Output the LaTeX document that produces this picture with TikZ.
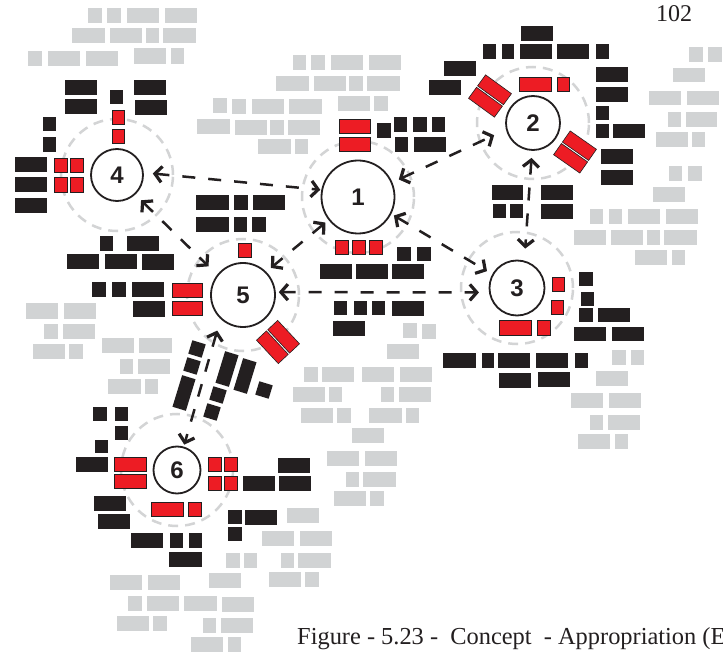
\documentclass[tikz,border=0pt]{standalone}
\usepackage{fontspec}
\setmainfont{Liberation Serif}
\newfontfamily\numfont{Liberation Sans}
\usetikzlibrary{arrows.meta}
\definecolor{ink}{HTML}{231F20}
\definecolor{redf}{HTML}{ED1C24}
\definecolor{grayf}{HTML}{D1D3D4}
\definecolor{ringc}{HTML}{D3D4D5}
\newcommand{\gryr}[4]{\fill[grayf] (#1,#2) rectangle (#3,#4);}
\newcommand{\blkr}[4]{\fill[ink] (#1,#2) rectangle (#3,#4);}
\newcommand{\redr}[4]{\filldraw[fill=redf,draw=ink,line width=0.6pt] (#1,#2) rectangle (#3,#4);}
\newcommand{\redpair}[3]{\begin{scope}[shift={(#1,#2)},rotate=#3]
  \filldraw[fill=redf,draw=ink,line width=0.6pt] (-16,-14.5) rectangle (16,-0.9);
  \filldraw[fill=redf,draw=ink,line width=0.6pt] (-16,0.9) rectangle (16,14.5);
  \end{scope}}
\newcommand{\tblk}[4]{\begin{scope}[shift={(#1,#2)},rotate=-17]
  \fill[ink] (-#3/2,-#4/2) rectangle (#3/2,#4/2);
  \end{scope}}
\tikzset{
  bigc/.style={circle,draw=ink,line width=1.8pt,fill=white,inner sep=0pt,text=ink,
    font=\numfont\bfseries\fontsize{24}{24}\selectfont},
  ring/.style={draw=ringc,line width=2.5pt,dash pattern=on 10pt off 7pt},
  conn/.style={draw=ink,line width=2.5pt,dash pattern=on 13pt off 13pt,
    {Straight Barb[length=7pt,width=16pt,line width=3.2pt]}-{Straight Barb[length=7pt,width=16pt,line width=3.2pt]}}
}
\begin{document}
\begin{tikzpicture}[x=1pt,y=-1pt]
\useasboundingbox (0,0) rectangle (723,660);
\clip (0,0) rectangle (723,660);
\fill[white] (0,0) rectangle (723,660);
% centres
\coordinate (c1) at (358,197);
\coordinate (c2) at (533,123);
\coordinate (c3) at (517,288);
\coordinate (c4) at (117,175);
\coordinate (c5) at (243,295);
\coordinate (c6) at (177,470);
% rings
\foreach \c in {c1,c2,c3,c4,c5,c6} {\draw[ring] (\c) circle[radius=56pt];}
% ---------- gray blocks
\gryr{88}{8}{102}{23}\gryr{107}{8}{121}{23}\gryr{127}{8}{159}{23}\gryr{165}{8}{197}{23}
\gryr{72}{28}{105}{43}\gryr{110}{28}{142}{43}\gryr{146}{28}{159}{43}\gryr{163}{28}{196}{43}
\gryr{28}{51}{42}{66}\gryr{48}{51}{80}{66}\gryr{86}{51}{118}{66}\gryr{134}{48}{166}{64}\gryr{171}{48}{184}{64}
\gryr{213}{98}{227}{113}\gryr{232}{99}{246}{114}\gryr{252}{99}{284}{114}\gryr{289}{99}{322}{114}
\gryr{197}{119}{230}{134}\gryr{235}{120}{267}{135}\gryr{270}{120}{284}{135}\gryr{288}{120}{320}{135}
\gryr{258}{139}{291}{154}\gryr{295}{139}{308}{154}
\gryr{293}{55}{306}{70}\gryr{311}{55}{325}{70}\gryr{331}{55}{363}{70}\gryr{369}{55}{401}{70}
\gryr{276}{76}{309}{91}\gryr{314}{76}{346}{91}\gryr{349}{76}{363}{91}\gryr{367}{76}{400}{91}
\gryr{338}{96}{370}{111}\gryr{374}{96}{388}{111}
\gryr{689}{47}{703}{62}\gryr{708}{47}{722}{62}
\gryr{673}{68}{705}{82}
\gryr{649}{91}{681}{105}\gryr{687}{91}{719}{105}
\gryr{668}{112}{681}{127}\gryr{686}{112}{717}{127}
\gryr{656}{132}{688}{147}\gryr{692}{132}{705}{147}
\gryr{669}{166}{682}{181}\gryr{688}{166}{702}{181}
\gryr{653}{187}{685}{202}
\gryr{590}{209}{603}{224}\gryr{609}{209}{622}{224}\gryr{628}{209}{660}{224}\gryr{666}{209}{698}{224}
\gryr{574}{230}{606}{245}\gryr{611}{230}{643}{245}\gryr{647}{230}{660}{245}\gryr{664}{230}{697}{245}
\gryr{635}{250}{667}{265}\gryr{672}{250}{685}{265}
\gryr{612}{350}{626}{365}\gryr{631}{350}{644}{365}
\gryr{596}{371}{628}{386}
\gryr{571}{393}{603}{408}\gryr{609}{393}{641}{408}
\gryr{590}{415}{603}{430}\gryr{608}{415}{640}{430}
\gryr{578}{434}{610}{449}\gryr{615}{434}{628}{449}
\gryr{403}{323}{417}{338}\gryr{422}{324}{436}{339}
\gryr{387}{344}{419}{359}
\gryr{304}{367}{318}{382}\gryr{322}{367}{354}{382}\gryr{362}{367}{394}{382}\gryr{400}{367}{432}{382}
\gryr{293}{387}{325}{402}\gryr{329}{387}{342}{402}\gryr{381}{387}{394}{402}\gryr{399}{387}{431}{402}
\gryr{301}{408}{333}{423}\gryr{337}{408}{351}{423}\gryr{369}{408}{402}{423}\gryr{406}{408}{419}{423}
\gryr{352}{428}{384}{443}
\gryr{327}{451}{359}{466}\gryr{365}{451}{397}{466}
\gryr{346}{472}{359}{487}\gryr{363}{472}{396}{487}
\gryr{334}{491}{366}{506}\gryr{370}{491}{384}{506}
\gryr{287}{508}{319}{523}
\gryr{262}{531}{294}{546}\gryr{300}{531}{332}{546}
\gryr{226}{553}{240}{568}\gryr{244}{553}{257}{568}\gryr{281}{553}{294}{568}\gryr{298}{553}{331}{568}
\gryr{209}{573}{241}{588}\gryr{269}{572}{301}{587}\gryr{305}{572}{319}{587}
\gryr{222}{597}{254}{612}
\gryr{221}{618}{253}{633}
\gryr{228}{637}{241}{652}
\gryr{110}{575}{142}{590}\gryr{148}{575}{180}{590}
\gryr{128}{596}{142}{611}\gryr{147}{596}{179}{611}\gryr{184}{596}{217}{611}
\gryr{117}{616}{149}{631}\gryr{153}{616}{167}{631}\gryr{203}{618}{216}{633}
\gryr{191}{637}{223}{652}
\gryr{26}{303}{58}{319}\gryr{64}{303}{96}{319}
\gryr{44}{324}{58}{339}\gryr{63}{324}{95}{339}
\gryr{33}{344}{65}{359}\gryr{69}{344}{83}{359}
\gryr{102}{338}{134}{353}\gryr{139}{338}{172}{353}
\gryr{120}{359}{133}{374}\gryr{138}{359}{170}{374}
\gryr{108}{379}{141}{394}\gryr{145}{379}{158}{394}
% ---------- around 4
\blkr{65}{80}{97}{95}\blkr{65}{99}{97}{114}\blkr{110}{90}{123}{104}\blkr{134}{80}{166}{95}\blkr{135}{100}{167}{115}
\blkr{43}{117}{56}{131}\blkr{43}{137}{56}{152}
\blkr{15}{157}{47}{172}\blkr{15}{177}{47}{192}\blkr{15}{198}{47}{213}
\redr{54}{158}{67}{172}\redr{70}{158}{83}{172}\redr{54}{177}{67}{192}\redr{70}{177}{83}{192}
\redr{112}{110}{124}{124}\redr{112}{129}{124}{143}
\blkr{100}{236}{113}{251}\blkr{127}{236}{159}{251}
\blkr{67}{254}{99}{269}\blkr{105}{254}{137}{269}\blkr{142}{254}{174}{270}
\blkr{92}{282}{106}{297}\blkr{112}{282}{126}{297}\blkr{132}{282}{164}{297}\blkr{133}{301}{165}{317}
\redr{172}{283}{202}{297}\redr{172}{301}{202}{315}
% ---------- around 5 and 1
\blkr{196}{195}{229}{210}\blkr{234}{195}{248}{210}\blkr{253}{195}{285}{210}
\blkr{196}{217}{229}{232}\blkr{234}{217}{247}{232}\blkr{252}{217}{266}{232}
\redr{238}{243}{251}{257}
\redr{335}{240}{348}{254}\redr{352}{240}{365}{254}\redr{369}{240}{382}{254}
\blkr{397}{247}{411}{261}\blkr{417}{247}{431}{261}
\blkr{320}{264}{352}{279}\blkr{356}{264}{388}{279}\blkr{392}{264}{424}{279}
\blkr{334}{301}{347}{315}\blkr{354}{301}{367}{315}\blkr{372}{301}{385}{315}\blkr{392}{301}{424}{316}
\blkr{333}{321}{365}{336}
\redr{339}{119}{370}{133}\redr{339}{137}{370}{151}
\blkr{377}{123}{391}{138}\blkr{394}{117}{407}{132}\blkr{413}{117}{427}{132}\blkr{432}{117}{445}{132}
\blkr{395}{137}{408}{152}\blkr{414}{137}{446}{152}
% ---------- around 2
\blkr{444}{61}{476}{76}\blkr{429}{80}{461}{95}
\blkr{521}{26}{553}{41}
\blkr{483}{44}{496}{59}\blkr{502}{44}{514}{59}\blkr{520}{44}{552}{59}\blkr{557}{44}{589}{59}\blkr{596}{44}{609}{59}
\redr{519}{77}{551}{91}\redr{557}{77}{569}{91}
\blkr{596}{67}{628}{82}\blkr{596}{87}{628}{102}\blkr{596}{106}{609}{120}\blkr{596}{124}{609}{138}\blkr{613}{124}{645}{138}
\blkr{601}{149}{633}{164}\blkr{601}{170}{633}{185}
\blkr{492}{185}{523}{200}\blkr{541}{185}{573}{200}\blkr{493}{204}{506}{218}\blkr{510}{204}{523}{218}\blkr{541}{204}{573}{219}
\redpair{490}{96}{-36}
\redpair{575}{152}{-35}
% ---------- around 3
\redr{552}{277}{564}{291}\redr{551}{300}{563}{314}\redr{499}{320}{531}{335}\redr{537}{320}{550}{335}
\blkr{579}{272}{593}{286}\blkr{581}{292}{594}{306}\blkr{579}{308}{593}{322}\blkr{598}{308}{630}{322}
\blkr{574}{327}{606}{341}\blkr{612}{327}{644}{341}
\blkr{443}{353}{476}{368}\blkr{482}{353}{494}{368}\blkr{498}{353}{530}{368}\blkr{536}{353}{568}{368}\blkr{575}{353}{588}{368}
\blkr{499}{373}{531}{388}\blkr{538}{372}{570}{387}
% ---------- 5 to 6
\redpair{278}{342}{-47}
\tblk{197}{349}{14}{14}\tblk{192}{366}{14}{14}\tblk{184}{393}{14}{33}
\tblk{227}{369}{14}{33}\tblk{245}{376}{14}{33}\tblk{218}{395}{14}{14}\tblk{212}{412}{14}{14}\tblk{264}{390}{14}{14}
% ---------- around 6
\blkr{93}{407}{107}{421}\blkr{115}{407}{128}{421}\blkr{115}{426}{128}{440}\blkr{95}{440}{108}{453}
\blkr{76}{457}{108}{472}
\blkr{94}{496}{126}{511}\blkr{98}{514}{130}{529}
\blkr{131}{533}{163}{548}\blkr{170}{533}{183}{548}\blkr{189}{533}{202}{548}\blkr{169}{552}{202}{567}
\redr{114}{457}{146}{471}\redr{114}{474}{146}{488}
\redr{208}{457}{221}{471}\redr{224}{457}{237}{471}\redr{208}{476}{221}{490}\redr{224}{476}{237}{490}
\redr{151}{502}{183}{516}\redr{188}{502}{201}{516}
\blkr{278}{458}{310}{473}\blkr{243}{476}{275}{491}\blkr{279}{476}{311}{491}
\blkr{228}{510}{242}{524}\blkr{245}{510}{277}{525}\blkr{228}{527}{242}{541}
% ---------- circles
\node[bigc,minimum size=73pt] (n1) at (c1) {1};
\node[bigc,minimum size=54pt] (n2) at (c2) {2};
\node[bigc,minimum size=55pt] (n3) at (c3) {3};
\node[bigc,minimum size=52pt] (n4) at (c4) {4};
\node[bigc,minimum size=64pt] (n5) at (c5) {5};
\node[bigc,minimum size=47pt] (n6) at (c6) {6};
% ---------- connectors
\draw[conn,shorten <=9pt,shorten >=1pt] (n4.5) -- (n1.169);
\draw[conn,shorten <=8pt,shorten >=12pt] (n4.-47) -- (n5.142);
\draw[conn,shorten <=4pt,shorten >=6pt] (n1.218) -- (n5.45);
\draw[conn,shorten <=7pt,shorten >=13pt] (n1.23) -- (n2.194);
\draw[conn,shorten <=7pt,shorten >=12pt] (n2.-92) -- (n3.75);
\draw[conn,shorten <=3pt,shorten >=6pt] (n1.-27) -- (n3.151);
\draw[conn,shorten <=3pt,shorten >=10pt] (n5.5) -- (n3.189);
\draw[conn,shorten <=12pt,shorten >=2pt] (n5.227) -- (n6.74);
% ---------- texts
\node[anchor=base west,inner sep=0pt,text=ink,font=\fontsize{24}{24}\selectfont] (pg) at (656,22) {102};
\node[anchor=base west,inner sep=0pt,text=ink,font=\fontsize{24.4}{24.4}\selectfont] (cap) at (297,644) {Figure - 5.23 -\ \ Concept\ \ - Appropriation (E};
\end{tikzpicture}
\end{document}
